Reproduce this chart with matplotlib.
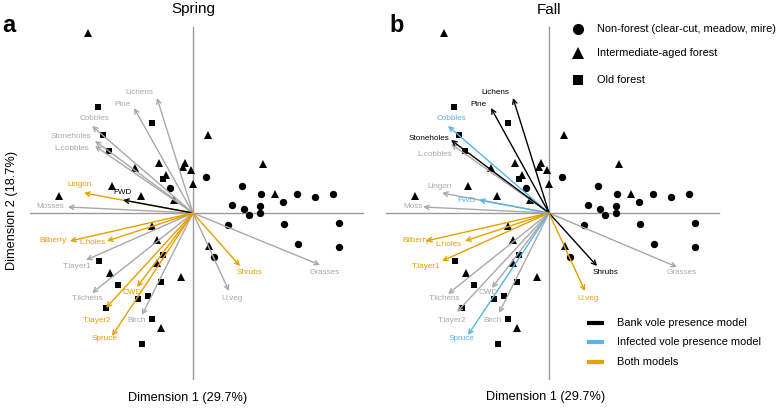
import matplotlib
matplotlib.use('Agg')
import matplotlib.pyplot as plt

plt.rcParams['font.family'] = ['Liberation Sans', 'DejaVu Sans']

# site scores (shared by both panels)
circle_x = [0.13, -0.23, 0.49, 0.68, 1.04, 1.22, 1.40, 0.39, 0.51, 0.56, 0.67, 0.67, 0.90, 0.35, 0.91, 1.46, 1.05, 1.46, 0.21]
circle_y = [0.36, 0.25, 0.27, 0.19, 0.19, 0.16, 0.19, 0.08, 0.04, -0.02, 0.07, 0.00, 0.11, -0.12, -0.11, -0.10, -0.31, -0.34, -0.44]
tri_x = [-1.05, 0.15, -0.58, -0.34, -0.08, -0.10, -0.02, -0.27, 0.70, 0.00, -0.81, -0.52, -1.34, -0.19, 0.82, -0.41, -0.36, 0.16, -0.36, -0.83, -0.12, -0.32]
tri_y = [1.80, 0.78, 0.45, 0.50, 0.50, 0.46, 0.43, 0.38, 0.49, 0.29, 0.27, 0.17, 0.17, 0.13, 0.19, -0.13, -0.27, -0.33, -0.50, -0.60, -0.64, -1.15]
sq_x = [-0.95, -0.41, -0.90, -0.84, -0.30, -0.94, -0.30, -0.75, -0.32, -0.55, -0.45, -0.87, -0.41, -0.51]
sq_y = [1.06, 0.90, 0.78, 0.62, 0.34, -0.48, -0.42, -0.72, -0.69, -0.86, -0.83, -0.95, -1.06, -1.31]

# spring loadings
spring_names = ['Lichens', 'Pine', 'Cobbles', 'Stoneholes', 'L.cobbles', 'Lingon', 'FWD', 'Mosses', 'Bilberry',
                'L.holes', 'T.layer1', 'T.lichens', 'CWD', 'T.layer2', 'Birch', 'Spruce', 'Shrubs', 'Grasses', 'U.veg']
spring_x = [-0.36, -0.59, -1.01, -0.98, -0.98, -1.09, -0.70, -1.25, -1.23, -0.86, -1.07, -1.01, -0.56, -0.87, -0.51, -0.81, 0.47, 1.27, 0.36]
spring_y = [1.15, 1.05, 0.87, 0.72, 0.67, 0.20, 0.13, 0.06, -0.28, -0.28, -0.47, -0.80, -0.74, -0.95, -1.02, -1.23, -0.53, -0.52, -0.78]
spring_lab_x = [-0.54, -0.71, -0.99, -1.22, -1.21, -1.13, -0.70, -1.43, -1.40, -1.01, -1.16, -1.05, -0.61, -0.96, -0.56, -0.88, 0.56, 1.32, 0.39]
spring_lab_y = [1.20, 1.08, 0.94, 0.76, 0.64, 0.28, 0.20, 0.06, -0.28, -0.30, -0.54, -0.855, -0.80, -1.07, -1.08, -1.26, -0.60, -0.60, -0.85]
spring_model = ['none', 'none', 'none', 'none', 'none', 'both', 'bank', 'none', 'both',
                'both', 'none', 'none', 'both', 'both', 'none', 'both', 'both', 'none', 'none']

# fall loadings
fall_names = ['Lichens', 'Pine', 'Cobbles', 'Stoneholes', 'L.cobbles', 'Lingon', 'FWD', 'Moss', 'Bilberry',
              'L.holes', 'T.layer1', 'T.lichens', 'CWD', 'T.layer2', 'Birch', 'Spruce', 'Shrubs', 'Grasses', 'U.veg']
fall_x = [-0.36, -0.58, -1.01, -0.98, -0.98, -1.07, -0.70, -1.26, -1.23, -0.84, -1.07, -1.01, -0.57, -0.92, -0.50, -0.81, 0.48, 1.28, 0.36]
fall_y = [1.15, 1.05, 0.87, 0.73, 0.69, 0.20, 0.13, 0.06, -0.28, -0.28, -0.48, -0.81, -0.75, -0.99, -1.00, -1.22, -0.53, -0.54, -0.78]
fall_lab_x = [-0.54, -0.71, -0.98, -1.20, -1.14, -1.09, -0.83, -1.36, -1.33, -1.01, -1.23, -1.04, -0.61, -0.97, -0.56, -0.87, 0.56, 1.33, 0.39]
fall_lab_y = [1.20, 1.08, 0.94, 0.75, 0.59, 0.27, 0.13, 0.07, -0.28, -0.32, -0.53, -0.86, -0.80, -1.07, -1.08, -1.26, -0.60, -0.60, -0.85]
fall_model = ['bank', 'bank', 'infected', 'bank', 'none', 'none', 'infected', 'none', 'both',
              'both', 'both', 'none', 'none', 'none', 'none', 'infected', 'bank', 'none', 'both']

site_labels = ['Non-forest (clear-cut, meadow, mire)', 'Intermediate-aged forest', 'Old forest']
model_labels = ['Bank vole presence model', 'Infected vole presence model', 'Both models']

COLORS = {'none': '#a8a8a8', 'bank': '#000000', 'infected': '#56B4E9', 'both': '#E69F00'}
AXIS_GREY = '#9a9a9a'

fig = plt.figure(figsize=(7.78, 4.08), dpi=100)


def draw_panel(ax, names, xs, ys, lab_x, lab_y, model):
    ax.plot([-1.63, 1.70], [0, 0], color=AXIS_GREY, lw=1.0, zorder=1)
    ax.plot([0, 0], [-1.66, 1.86], color=AXIS_GREY, lw=1.0, zorder=1)
    ax.plot(circle_x, circle_y, 'o', color='black', ms=5.3, mew=0, zorder=2)
    ax.plot(tri_x, tri_y, '^', color='black', ms=6.3, mew=0, zorder=2)
    ax.plot(sq_x, sq_y, 's', color='black', ms=5.0, mew=0, zorder=2)
    # grey arrows underneath, coloured on top
    order = sorted(range(len(names)), key=lambda k: model[k] != 'none')
    for k in order:
        c = COLORS[model[k]]
        ax.annotate('', xy=(xs[k], ys[k]), xytext=(0, 0),
                    arrowprops=dict(arrowstyle='->', color=c, lw=1.0, shrinkA=0, shrinkB=0,
                                    mutation_scale=8), zorder=3)
        ax.text(lab_x[k], lab_y[k], names[k], color=c, fontsize=5.9, ha='center', va='center', zorder=4)
    ax.set_ylim(-1.95, 2.13)
    ax.axis('off')


ax1 = fig.add_axes([0, 0, 380 / 778, 1])
ax1.set_xlim(-1.93, 1.87)
draw_panel(ax1, spring_names, spring_x, spring_y, spring_lab_x, spring_lab_y, spring_model)

ax2 = fig.add_axes([380 / 778, 0, 398 / 778, 1])
ax2.set_xlim(-1.69, 2.29)
draw_panel(ax2, fall_names, fall_x, fall_y, fall_lab_x, fall_lab_y, fall_model)

# overlay in pixel units for titles, labels and legends
ov = fig.add_axes([0, 0, 1, 1])
ov.set_xlim(0, 778)
ov.set_ylim(408, 0)
ov.axis('off')

ov.text(2, 32, 'a', fontsize=17, fontweight='bold', ha='left', va='baseline')
ov.text(389, 32, 'b', fontsize=17, fontweight='bold', ha='left', va='baseline')
ov.text(193, 13, 'Spring', fontsize=11, ha='center', va='baseline')
ov.text(549, 14, 'Fall', fontsize=11, ha='center', va='baseline')
ov.text(12, 210, 'Dimension 2 (18.7%)', fontsize=9.2, rotation=90, ha='center', va='center')
ov.text(188, 398, 'Dimension 1 (29.7%)', fontsize=9.2, ha='center', va='center')
ov.text(546, 397, 'Dimension 1 (29.7%)', fontsize=9.2, ha='center', va='center')

for lab, mk, yy, ms in zip(site_labels, ['o', '^', 's'], [29, 53, 80], [8, 8.5, 7]):
    ov.plot([578], [yy], mk, color='black', ms=ms, mew=0)
    ov.text(597, yy, lab, fontsize=7.9, ha='left', va='center')

for lab, key, yy in zip(model_labels, ['bank', 'infected', 'both'], [323, 342, 362]):
    ov.plot([587, 604], [yy, yy], color=COLORS[key], lw=3, solid_capstyle='butt')
    ov.text(617, yy, lab, fontsize=7.9, ha='left', va='center')

fig.savefig('out.png', dpi=100)
